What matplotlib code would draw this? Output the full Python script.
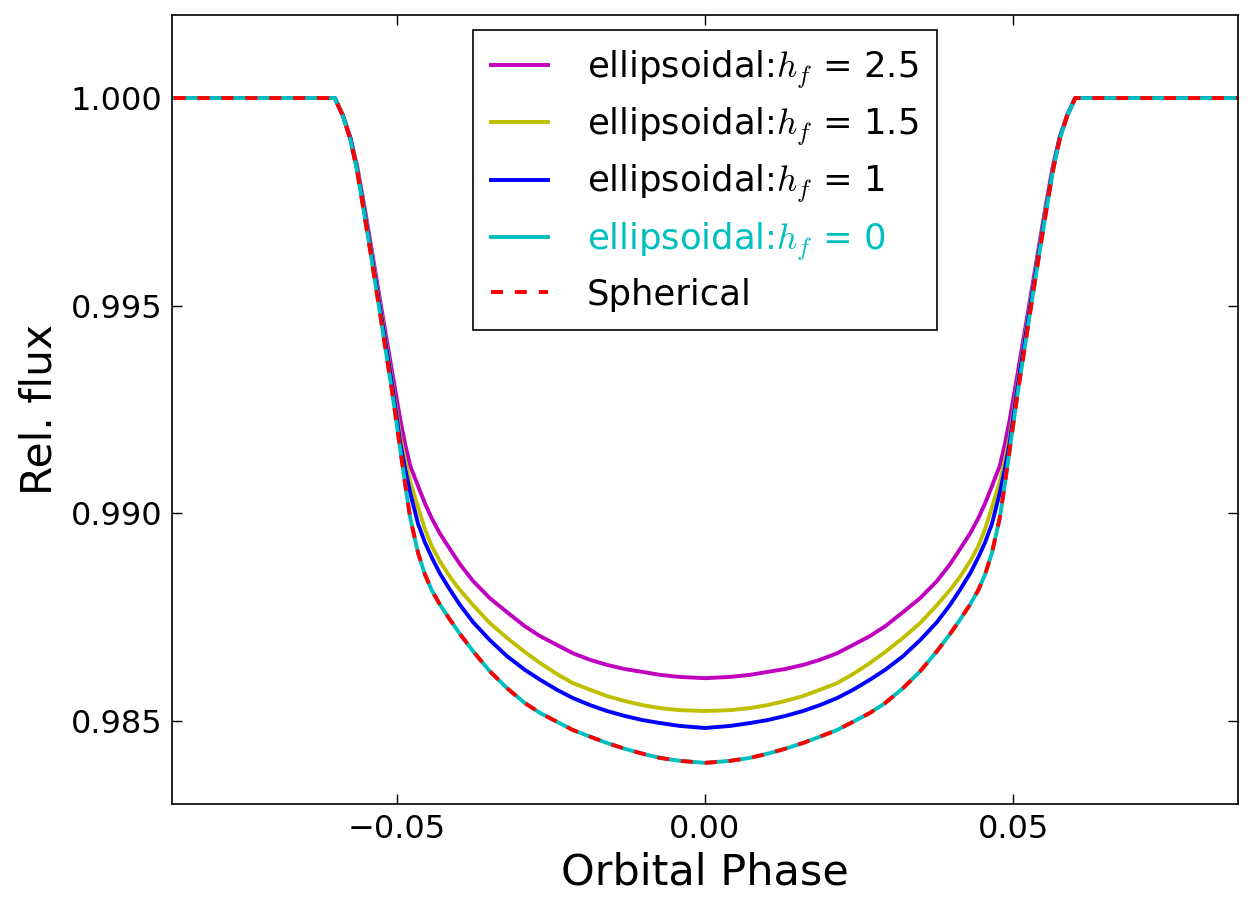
import matplotlib
matplotlib.use("Agg")
import matplotlib.pyplot as plt
import numpy as np
from matplotlib.ticker import ScalarFormatter

plt.rcParams['font.family'] = ['DejaVu Sans']
plt.rcParams['mathtext.fontset'] = 'cm'
plt.rcParams['lines.scale_dashes'] = False

# Orbital phase (ingress half; egress mirrors it)
phase_half = [-0.0900, -0.0600, -0.0587, -0.0575, -0.0564, -0.0554, -0.0543, -0.0532,
              -0.0522, -0.0507, -0.0494, -0.0486, -0.0478, -0.0465, -0.0454, -0.0443,
              -0.0430, -0.0413, -0.0397, -0.0376, -0.0349, -0.0321, -0.0292, -0.0267,
              -0.0240, -0.0214, -0.0186, -0.0159, -0.0130, -0.0101, -0.0073, -0.0041, 0.0]

flux_hf25 = [1.00000, 1.00000, 0.99959, 0.99906, 0.99837, 0.99755, 0.99659, 0.99560,
             0.99471, 0.99339, 0.99226, 0.99166, 0.99115, 0.99065, 0.99024, 0.98988,
             0.98952, 0.98913, 0.98877, 0.98837, 0.98796, 0.98762, 0.98728, 0.98704,
             0.98683, 0.98663, 0.98647, 0.98635, 0.98625, 0.98618, 0.98611, 0.98606, 0.98603]

flux_hf15 = [1.00000, 1.00000, 0.99957, 0.99904, 0.99832, 0.99748, 0.99649, 0.99548,
             0.99457, 0.99315, 0.99185, 0.99127, 0.99077, 0.99014, 0.98962, 0.98921,
             0.98885, 0.98846, 0.98815, 0.98779, 0.98736, 0.98700, 0.98666, 0.98639,
             0.98613, 0.98591, 0.98575, 0.98560, 0.98548, 0.98538, 0.98531, 0.98526, 0.98524]

flux_hf1 = [1.00000, 1.00000, 0.99957, 0.99904, 0.99829, 0.99743, 0.99644, 0.99543,
            0.99450, 0.99308, 0.99171, 0.99106, 0.99050, 0.98974, 0.98930, 0.98894,
            0.98856, 0.98815, 0.98779, 0.98738, 0.98695, 0.98656, 0.98623, 0.98599,
            0.98575, 0.98555, 0.98538, 0.98524, 0.98512, 0.98502, 0.98495, 0.98488, 0.98483]

flux_hf0 = [1.00000, 1.00000, 0.99957, 0.99901, 0.99825, 0.99736, 0.99635, 0.99531,
            0.99435, 0.99291, 0.99154, 0.99070, 0.98990, 0.98904, 0.98853, 0.98815,
            0.98781, 0.98743, 0.98709, 0.98668, 0.98620, 0.98579, 0.98543, 0.98519,
            0.98498, 0.98478, 0.98462, 0.98447, 0.98433, 0.98421, 0.98411, 0.98404, 0.98399]

flux_spherical = [1.00000, 1.00000, 0.99957, 0.99901, 0.99825, 0.99736, 0.99635, 0.99531,
                  0.99435, 0.99291, 0.99154, 0.99070, 0.98990, 0.98904, 0.98853, 0.98815,
                  0.98781, 0.98743, 0.98709, 0.98668, 0.98620, 0.98579, 0.98543, 0.98519,
                  0.98498, 0.98478, 0.98462, 0.98447, 0.98433, 0.98421, 0.98411, 0.98404, 0.98399]

labels = [r'ellipsoidal:$h_f$ = 2.5', r'ellipsoidal:$h_f$ = 1.5',
          r'ellipsoidal:$h_f$ = 1', r'ellipsoidal:$h_f$ = 0', 'Spherical']
colors = ['m', 'y', 'b', 'c', 'r']
xticks = [-0.05, 0.0, 0.05]
yticks = [0.985, 0.990, 0.995, 1.000]


def full(half_x, half_y):
    hx = np.asarray(half_x)
    hy = np.asarray(half_y)
    x = np.concatenate([hx, -hx[-2::-1]])
    y = np.concatenate([hy, hy[-2::-1]])
    return x, y


fig = plt.figure(figsize=(12.54, 9.14), dpi=100)
ax = fig.add_axes([172/1254, 1-804/914, (1238-172)/1254, (804-15)/914])

series = [flux_hf25, flux_hf15, flux_hf1, flux_hf0]
for fl, c, lab in zip(series, colors[:4], labels[:4]):
    x, y = full(phase_half, fl)
    ax.plot(x, y, color=c, lw=2.8, label=lab, solid_joinstyle='round')
x, y = full(phase_half, flux_spherical)
ax.plot(x, y, color=colors[4], lw=2.8, ls='--', dashes=(8.6, 8.6), label=labels[4])

ax.set_xlim(-0.0864, 0.0864)
ax.set_ylim(0.983, 1.002)
ax.set_xticks(xticks)
ax.set_yticks(yticks)
fmt = ScalarFormatter(useOffset=False)
ax.yaxis.set_major_formatter(fmt)
ax.tick_params(direction='in', length=7, width=1, top=True, right=True,
               labelsize=23, pad=7)
for sp in ax.spines.values():
    sp.set_linewidth(1.2)

ax.set_xlabel('Orbital Phase', fontsize=31, labelpad=5)
ax.set_ylabel('Rel. flux', fontsize=30.5, labelpad=7)

leg = ax.legend(loc='upper center', bbox_to_anchor=(0.5, 0.981), borderaxespad=0,
                fontsize=25.5, handlelength=1.6, handletextpad=1.1,
                labelspacing=0.43, borderpad=0.52, fancybox=False, framealpha=1,
                edgecolor='black')
leg.get_frame().set_linewidth(1.2)
leg.get_texts()[3].set_color('c')

fig.savefig('out.png', dpi=100)
